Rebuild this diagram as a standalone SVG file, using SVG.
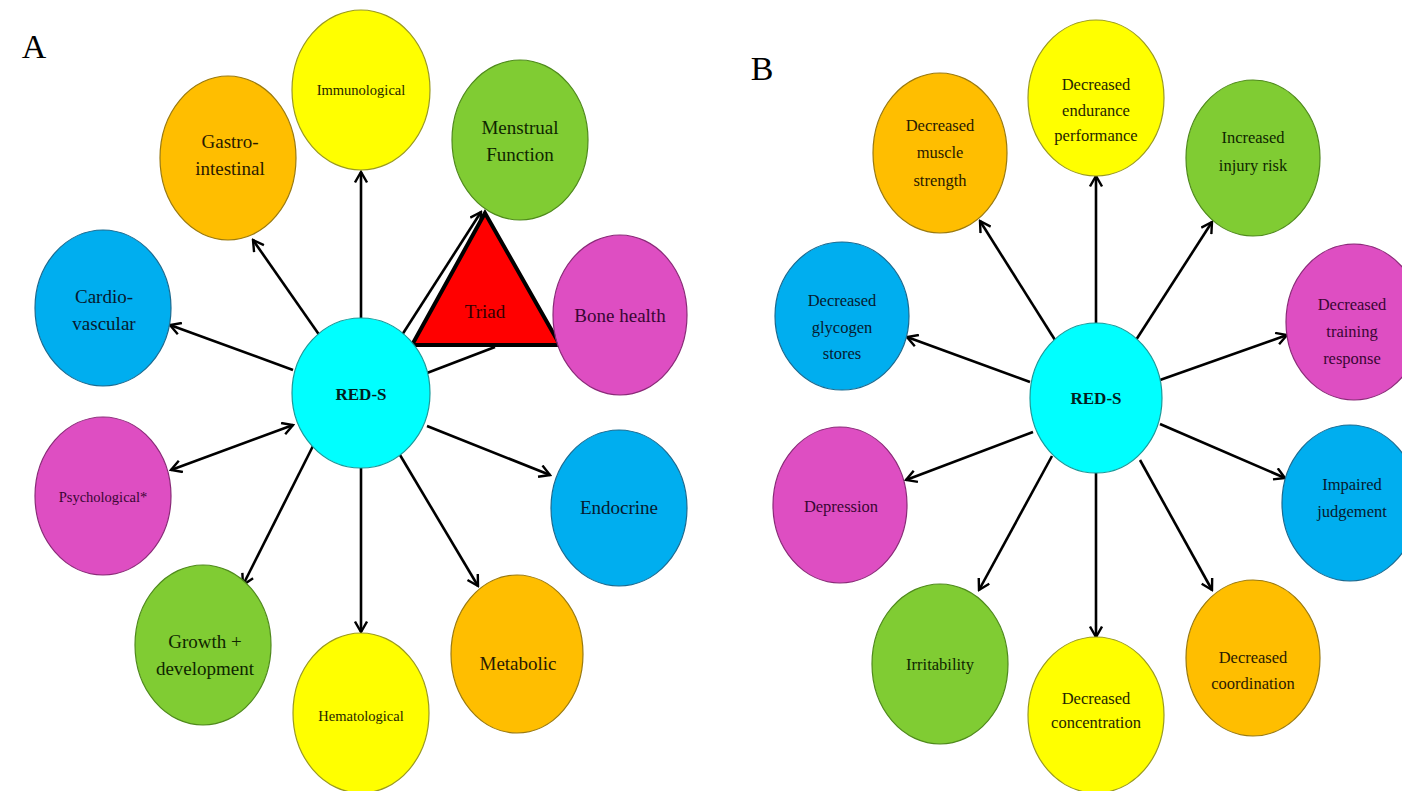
<svg xmlns="http://www.w3.org/2000/svg" width="1402" height="791" viewBox="0 0 1402 791">
<style>
.y{fill:#FFFF00;stroke:#9a9a20;stroke-width:1.2}
.o{fill:#FFBE00;stroke:#9a7a10;stroke-width:1.2}
.g{fill:#80CC33;stroke:#4f8a1c;stroke-width:1.2}
.b{fill:#00AEEF;stroke:#1a6a90;stroke-width:1.2}
.p{fill:#DE4EC2;stroke:#8a2a78;stroke-width:1.2}
.c{fill:#00FFFF;stroke:#1a9a9a;stroke-width:1.2}
text{font-family:"Liberation Serif","Times New Roman",serif;text-anchor:middle}
.t{font-size:19px}
.s{font-size:14.5px}
.u{font-size:16.5px}
.ty{fill:#262600}.to{fill:#2a1a00}.tg{fill:#0f2600}.tb{fill:#061a30}.tp{fill:#3a0634}.tc{fill:#031e1e}
.lbl{font-size:34px;fill:#000}
.conn line{stroke:#000;stroke-width:2.6;fill:none}
</style>
<defs>
<marker id="ah" viewBox="0 0 14 14" refX="12" refY="7" markerWidth="14" markerHeight="14" orient="auto-start-reverse" markerUnits="userSpaceOnUse">
<path d="M1.5,1 L12,7 L1.5,13" fill="none" stroke="#000" stroke-width="2.4"/>
</marker>
</defs>
<rect width="1402" height="791" fill="#fff"/>
<text class="lbl" x="34" y="58">A</text>
<text class="lbl" x="762" y="80">B</text>

<g id="connectors" class="conn">
<line x1="361" y1="318" x2="361" y2="172" marker-end="url(#ah)"/>
<line x1="320" y1="336" x2="253" y2="240" marker-end="url(#ah)"/>
<line x1="293" y1="370" x2="170" y2="325" marker-end="url(#ah)"/>
<line x1="293" y1="425" x2="171" y2="470" marker-start="url(#ah)" marker-end="url(#ah)"/>
<line x1="313" y1="446" x2="243" y2="585" marker-end="url(#ah)"/>
<line x1="361" y1="468" x2="361" y2="632" marker-end="url(#ah)"/>
<line x1="400" y1="455" x2="478" y2="586" marker-end="url(#ah)"/>
<line x1="427" y1="426" x2="550" y2="475" marker-end="url(#ah)"/>
<line x1="402" y1="335" x2="481" y2="212" marker-end="url(#ah)"/>
<line x1="427" y1="373" x2="495" y2="347"/>

<line x1="1096" y1="324" x2="1096" y2="176" marker-end="url(#ah)"/>
<line x1="1055" y1="340" x2="980" y2="221" marker-end="url(#ah)"/>
<line x1="1136" y1="340" x2="1212" y2="222" marker-end="url(#ah)"/>
<line x1="1030" y1="382" x2="907" y2="337" marker-end="url(#ah)"/>
<line x1="1160" y1="380" x2="1287" y2="335" marker-end="url(#ah)"/>
<line x1="1033" y1="432" x2="906" y2="480" marker-end="url(#ah)"/>
<line x1="1160" y1="424" x2="1285" y2="478" marker-end="url(#ah)"/>
<line x1="1052" y1="456" x2="979" y2="590" marker-end="url(#ah)"/>
<line x1="1096" y1="472" x2="1096" y2="637" marker-end="url(#ah)"/>
<line x1="1140" y1="460" x2="1212" y2="590" marker-end="url(#ah)"/>
</g>

<g id="triad">
<polygon points="485,213 412,345 560,345" fill="#FF0000" stroke="#000" stroke-width="4" stroke-linejoin="miter"/>
<text class="t" x="485" y="318" fill="#300">Triad</text>
</g>

<g id="a-reds"><ellipse class="c" cx="361" cy="393" rx="69" ry="75"/><text x="361" y="400" font-size="17" font-weight="bold" class="tc">RED-S</text></g>
<g id="a-immuno"><ellipse class="y" cx="361" cy="90" rx="69" ry="80"/><text class="s ty" x="361" y="95">Immunological</text></g>
<g id="a-menstrual"><ellipse class="g" cx="520" cy="140" rx="68" ry="80"/><text class="t tg" x="520" y="134">Menstrual</text><text class="t tg" x="520" y="161">Function</text></g>
<g id="a-gastro"><ellipse class="o" cx="228" cy="158" rx="68" ry="82"/><text class="t to" x="230" y="148">Gastro-</text><text class="t to" x="230" y="175">intestinal</text></g>
<g id="a-cardio"><ellipse class="b" cx="103" cy="308" rx="68" ry="78"/><text class="t tb" x="104" y="303">Cardio-</text><text class="t tb" x="104" y="330">vascular</text></g>
<g id="a-bone"><ellipse class="p" cx="620" cy="315" rx="67" ry="80"/><text class="t tp" x="620" y="322">Bone health</text></g>
<g id="a-psych"><ellipse class="p" cx="103" cy="496" rx="68" ry="79"/><text class="s tp" x="103" y="502">Psychological*</text></g>
<g id="a-endo"><ellipse class="b" cx="619" cy="508" rx="68" ry="78"/><text class="t tb" x="619" y="514">Endocrine</text></g>
<g id="a-growth"><ellipse class="g" cx="203" cy="645" rx="68" ry="80"/><text class="t tg" x="205" y="648">Growth +</text><text class="t tg" x="205" y="675">development</text></g>
<g id="a-hema"><ellipse class="y" cx="361" cy="713" rx="68" ry="80"/><text class="s ty" x="361" y="721">Hematological</text></g>
<g id="a-metab"><ellipse class="o" cx="517" cy="654" rx="66" ry="79"/><text class="t to" x="518" y="670">Metabolic</text></g>

<g id="b-reds"><ellipse class="c" cx="1096" cy="398" rx="66" ry="75"/><text x="1096" y="404" font-size="17" font-weight="bold" class="tc">RED-S</text></g>
<g id="b-endurance"><ellipse class="y" cx="1096" cy="98" rx="68" ry="78"/><text class="u ty" x="1096" y="90">Decreased</text><text class="u ty" x="1096" y="116">endurance</text><text class="u ty" x="1096" y="141">performance</text></g>
<g id="b-injury"><ellipse class="g" cx="1253" cy="158" rx="67" ry="78"/><text class="u tg" x="1253" y="143">Increased</text><text class="u tg" x="1253" y="171">injury risk</text></g>
<g id="b-muscle"><ellipse class="o" cx="940" cy="153" rx="67" ry="80"/><text class="u to" x="940" y="131">Decreased</text><text class="u to" x="940" y="158">muscle</text><text class="u to" x="940" y="186">strength</text></g>
<g id="b-glycogen"><ellipse class="b" cx="842" cy="316" rx="67" ry="74"/><text class="u tb" x="842" y="306">Decreased</text><text class="u tb" x="842" y="333">glycogen</text><text class="u tb" x="842" y="359">stores</text></g>
<g id="b-training"><ellipse class="p" cx="1354" cy="322" rx="68" ry="78"/><text class="u tp" x="1352" y="310">Decreased</text><text class="u tp" x="1352" y="337">training</text><text class="u tp" x="1352" y="364">response</text></g>
<g id="b-depression"><ellipse class="p" cx="840" cy="505" rx="67" ry="78"/><text class="u tp" x="841" y="512">Depression</text></g>
<g id="b-judgement"><ellipse class="b" cx="1350" cy="503" rx="68" ry="78"/><text class="u tb" x="1352" y="490">Impaired</text><text class="u tb" x="1352" y="517">judgement</text></g>
<g id="b-irritability"><ellipse class="g" cx="940" cy="664" rx="68" ry="80"/><text class="u tg" x="940" y="670">Irritability</text></g>
<g id="b-concentration"><ellipse class="y" cx="1096" cy="715" rx="68" ry="78"/><text class="u ty" x="1096" y="704">Decreased</text><text class="u ty" x="1096" y="728">concentration</text></g>
<g id="b-coordination"><ellipse class="o" cx="1253" cy="658" rx="67" ry="78"/><text class="u to" x="1253" y="663">Decreased</text><text class="u to" x="1253" y="689">coordination</text></g>
</svg>
